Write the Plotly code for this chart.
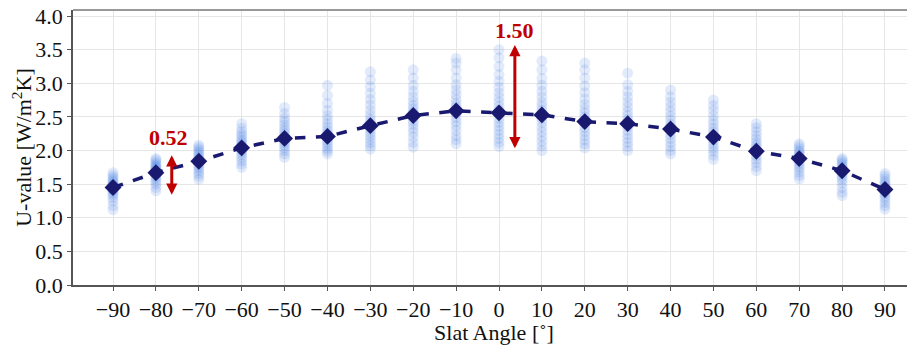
import plotly.graph_objects as go

angles = [-90, -80, -70, -60, -50, -40, -30, -20, -10, 0, 10, 20, 30, 40, 50, 60, 70, 80, 90]

samples = {
    -90: [1.12, 1.18, 1.25, 1.30, 1.34, 1.37, 1.40, 1.42, 1.44, 1.46, 1.48, 1.50, 1.52, 1.54, 1.57, 1.60, 1.63, 1.67],
    -80: [1.40, 1.45, 1.50, 1.54, 1.58, 1.61, 1.64, 1.66, 1.68, 1.70, 1.72, 1.74, 1.76, 1.78, 1.80, 1.83, 1.86, 1.88],
    -70: [1.57, 1.62, 1.66, 1.70, 1.74, 1.77, 1.80, 1.83, 1.85, 1.87, 1.90, 1.93, 1.96, 1.99, 2.02, 2.05, 2.08],
    -60: [1.75, 1.80, 1.85, 1.90, 1.94, 1.98, 2.01, 2.04, 2.07, 2.10, 2.13, 2.16, 2.20, 2.24, 2.28, 2.33, 2.40],
    -50: [1.90, 1.95, 2.00, 2.04, 2.08, 2.12, 2.15, 2.18, 2.21, 2.25, 2.29, 2.33, 2.38, 2.43, 2.48, 2.55, 2.64],
    -40: [1.95, 1.99, 2.03, 2.07, 2.11, 2.15, 2.19, 2.22, 2.26, 2.30, 2.35, 2.40, 2.46, 2.52, 2.60, 2.70, 2.82, 2.97],
    -30: [2.02, 2.07, 2.12, 2.17, 2.22, 2.27, 2.32, 2.37, 2.42, 2.47, 2.53, 2.60, 2.68, 2.76, 2.85, 2.95, 3.05, 3.17],
    -20: [2.05, 2.12, 2.20, 2.27, 2.33, 2.39, 2.44, 2.49, 2.53, 2.57, 2.62, 2.67, 2.73, 2.80, 2.88, 2.97, 3.08, 3.20],
    -10: [2.10, 2.16, 2.22, 2.30, 2.37, 2.43, 2.49, 2.55, 2.60, 2.65, 2.70, 2.76, 2.83, 2.90, 2.98, 3.08, 3.20, 3.30, 3.37],
    0:   [2.06, 2.12, 2.18, 2.24, 2.30, 2.36, 2.42, 2.48, 2.54, 2.60, 2.66, 2.72, 2.79, 2.86, 2.94, 3.03, 3.13, 3.25, 3.38, 3.50],
    10:  [2.00, 2.07, 2.14, 2.21, 2.28, 2.35, 2.42, 2.48, 2.54, 2.60, 2.66, 2.72, 2.80, 2.88, 2.97, 3.07, 3.20, 3.33],
    20:  [2.04, 2.10, 2.16, 2.22, 2.28, 2.34, 2.40, 2.45, 2.50, 2.56, 2.62, 2.69, 2.77, 2.86, 2.96, 3.08, 3.20, 3.30],
    30:  [2.00, 2.06, 2.12, 2.18, 2.24, 2.30, 2.36, 2.41, 2.46, 2.52, 2.58, 2.65, 2.72, 2.80, 2.88, 2.98, 3.15],
    40:  [1.95, 2.00, 2.06, 2.12, 2.18, 2.24, 2.29, 2.34, 2.39, 2.45, 2.51, 2.58, 2.65, 2.72, 2.80, 2.90],
    50:  [1.87, 1.93, 1.99, 2.04, 2.09, 2.14, 2.19, 2.23, 2.28, 2.33, 2.39, 2.45, 2.52, 2.60, 2.67, 2.75],
    60:  [1.70, 1.76, 1.82, 1.87, 1.92, 1.96, 2.00, 2.04, 2.08, 2.12, 2.17, 2.22, 2.28, 2.34, 2.40],
    70:  [1.58, 1.63, 1.68, 1.73, 1.77, 1.81, 1.85, 1.88, 1.91, 1.94, 1.97, 2.00, 2.03, 2.07, 2.10],
    80:  [1.33, 1.38, 1.45, 1.52, 1.57, 1.61, 1.65, 1.68, 1.71, 1.74, 1.77, 1.80, 1.83, 1.86, 1.88],
    90:  [1.13, 1.18, 1.23, 1.28, 1.32, 1.36, 1.39, 1.42, 1.45, 1.48, 1.51, 1.54, 1.58, 1.62, 1.66],
}

mean_u = [1.45, 1.67, 1.84, 2.04, 2.18, 2.21, 2.37, 2.52, 2.59, 2.56, 2.53, 2.43,
          2.40, 2.32, 2.20, 1.99, 1.88, 1.70, 1.42]

x_ticks = angles
x_ticklabels = [("\u2212" + str(-a)) if a < 0 else str(a) for a in angles]
y_ticks = [0.0, 0.5, 1.0, 1.5, 2.0, 2.5, 3.0, 3.5, 4.0]

# range arrows: (x, low, high, label, label_x, label_y)
arrows = [
    (-76.3, 1.32, 1.93, "0.52", -77.0, 2.19),
    (3.7, 2.01, 3.57, "1.50", 3.7, 3.79),
]

FONT = "Liberation Serif"
RED = "#c00000"

fig = go.Figure()

sx, sy = [], []
for a in angles:
    for v in samples[a]:
        sx.append(a)
        sy.append(v)

fig.add_trace(go.Scatter(
    x=sx, y=sy, mode="markers",
    marker=dict(size=11, color="#2f6fe0", opacity=0.14, line=dict(width=0)),
    showlegend=False, hoverinfo="skip",
))

fig.add_trace(go.Scatter(
    x=angles, y=mean_u, mode="lines+markers",
    line=dict(color="#191970", width=3.5, dash="dash"),
    marker=dict(symbol="diamond", size=13, color="#191970"),
    showlegend=False,
))

for (ax_, lo, hi, label, lx, ly) in arrows:
    fig.add_annotation(
        x=ax_, y=hi, ax=ax_, ay=lo, xref="x", yref="y", axref="x", ayref="y",
        text="", showarrow=True, arrowhead=2, startarrowhead=2, arrowside="end+start",
        arrowsize=0.75, arrowwidth=3, arrowcolor=RED, standoff=0, startstandoff=0,
    )
    fig.add_annotation(
        x=lx, y=ly, xref="x", yref="y", text="<b>" + label + "</b>", showarrow=False,
        font=dict(family=FONT, size=22, color=RED),
    )

fig.add_shape(type="line", xref="paper", yref="paper", x0=0, x1=1, y0=1, y1=1,
              line=dict(color="#999999", width=2))

fig.update_layout(
    width=907, height=337,
    margin=dict(l=65, r=0, t=2, b=60),
    paper_bgcolor="white", plot_bgcolor="white",
    font=dict(family=FONT, size=22, color="#111111"),
    xaxis=dict(
        range=[-99.33, 97.0], tickvals=x_ticks, ticktext=x_ticklabels,
        showgrid=True, gridcolor="#e6e6e6", gridwidth=1,
        showline=True, linecolor="#555555", linewidth=1.5,
        ticks="outside", ticklen=4, tickcolor="#555555",
        zeroline=False, automargin=False, ticklabeloverflow="allow",
        title=dict(text="Slat Angle [\u02da]", font=dict(family=FONT, size=22), standoff=2),
        tickfont=dict(family=FONT, size=22),
    ),
    yaxis=dict(
        range=[0, 4.09], tickvals=y_ticks, ticktext=[f"{v:.1f}" for v in y_ticks],
        showgrid=True, gridcolor="#e6e6e6", gridwidth=1,
        showline=True, linecolor="#555555", linewidth=1.5,
        ticks="outside", ticklen=4, tickcolor="#555555",
        zeroline=False, automargin=False, ticklabeloverflow="allow",
        title=dict(text="U-value [W/m<sup>2</sup>K]", font=dict(family=FONT, size=22), standoff=4),
        tickfont=dict(family=FONT, size=22),
    ),
)

fig.write_html("out.html")
